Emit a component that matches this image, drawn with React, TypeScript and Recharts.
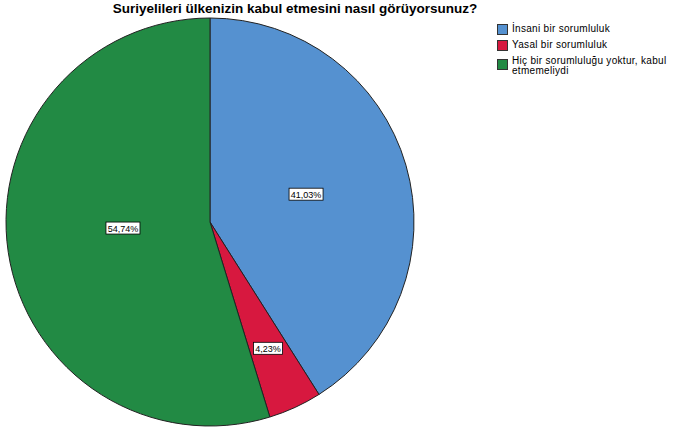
import React from 'react';
import { PieChart, Pie, Cell, Legend } from 'recharts';

const categories = ['İnsani bir sorumluluk', 'Yasal bir sorumluluk', 'Hiç bir sorumluluğu yoktur, kabul etmemeliydi'];
const percents = [41.03, 4.23, 54.74];
const colors = ['#5591d0', '#d7183f', '#228a44'];

const data = categories.map((name, i) => ({ name, value: percents[i] }));

const labelRadius = [100, 139, 88];
const RAD = Math.PI / 180;

const renderLabel = (props: any) => {
    const { cx, cy, midAngle, index, value } = props;
    const r = labelRadius[index];
    const x = cx + r * Math.cos(-midAngle * RAD);
    const y = cy + r * Math.sin(-midAngle * RAD) - (index === 2 ? 7 : 0);
    const txt = value.toFixed(2).replace('.', ',') + '%';
    const w = txt.length * 5 + 4;
    return (
        <g>
            <rect x={x - w / 2} y={y - 6} width={w} height={12} fill="#fff" stroke="#000" strokeWidth={0.8} />
            <text x={x} y={y + 3.5} textAnchor="middle" fontSize={9} fontFamily="Liberation Sans, Arial" fill="#000">
                {txt}
            </text>
        </g>
    );
};

const LegendBox = () => (
    <div style={{ fontFamily: 'Liberation Sans, Arial', fontSize: 10, color: '#000', lineHeight: '10px', letterSpacing: 0.3 }}>
        {categories.map((c, i) => (
            <div key={c} style={{ display: 'flex', alignItems: 'flex-start', marginBottom: 5 }}>
                <div style={{ width: 11, height: 11, background: colors[i], border: '1px solid #333', boxSizing: 'border-box', marginRight: 4, marginTop: i === 2 ? 3 : 0, flexShrink: 0 }} />
                <div style={{ width: 170 }}>{c}</div>
            </div>
        ))}
    </div>
);

const App: React.FC = () => {
    return (
        <div style={{ position: 'absolute', left: 0, top: 0, width: 682, height: 435, background: '#fff' }}>
            <div style={{ position: 'absolute', left: 0, width: 590, top: 1, textAlign: 'center', fontFamily: 'Liberation Sans, Arial', fontWeight: 'bold', fontSize: 13.5 }}>
                Suriyelileri ülkenizin kabul etmesini nasıl görüyorsunuz?
            </div>
            <PieChart width={682} height={435} margin={{ top: 0, right: 0, bottom: 0, left: 0 }}>
                <Pie
                    data={data}
                    dataKey="value"
                    nameKey="name"
                    cx={210}
                    cy={222}
                    outerRadius={204}
                    startAngle={90}
                    endAngle={-270}
                    stroke="#222"
                    strokeWidth={1}
                    label={renderLabel}
                    labelLine={false}
                    isAnimationActive={false}
                >
                    {data.map((d, i) => (
                        <Cell key={d.name} fill={colors[i]} />
                    ))}
                </Pie>
                <Legend
                    layout="vertical"
                    align="right"
                    verticalAlign="top"
                    content={() => <LegendBox />}
                    wrapperStyle={{ left: 497, top: 24, width: 185 }}
                />
            </PieChart>
        </div>
    );
};

export default App;
